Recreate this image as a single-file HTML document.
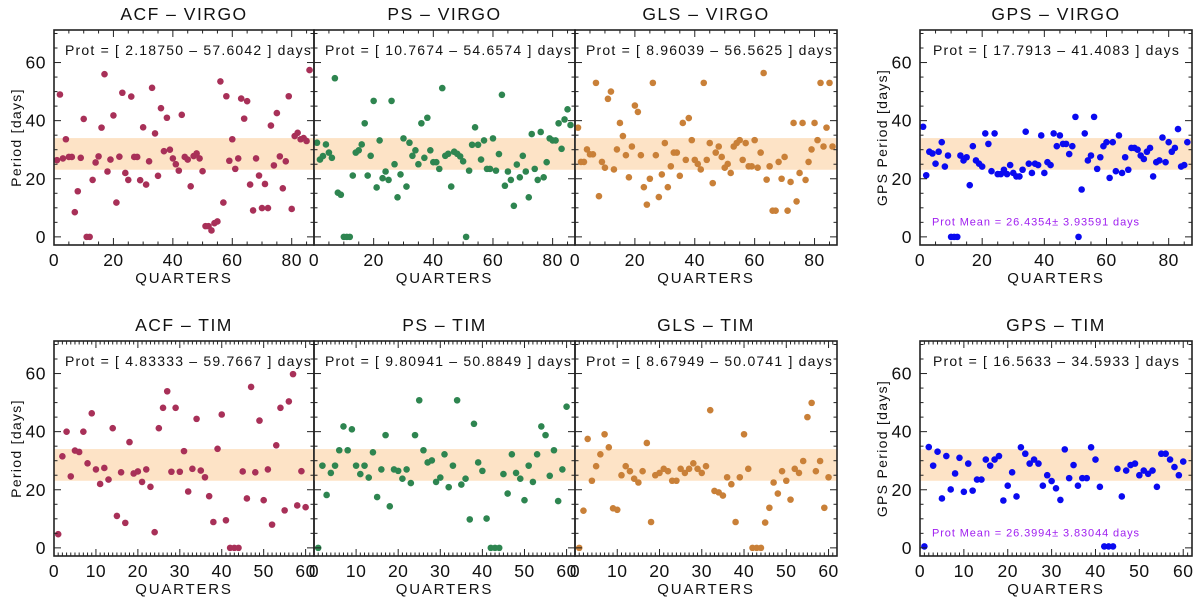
<!DOCTYPE html>
<html><head><meta charset="utf-8"><style>
html,body{margin:0;padding:0;background:#fff;}
svg{display:block;font-family:"Liberation Sans",sans-serif;}
</style></head><body>
<svg id="fig" width="1200" height="602" viewBox="0 0 1200 602" xmlns="http://www.w3.org/2000/svg"></svg>
<script>
// ---- data: period (days) per quarter, quarters start at 1 ----
const acfVirgo = [26.4,49,27,33.6,27.5,27.5,8.5,15.7,27.2,40.6,0,0,19.6,25.6,27.7,37.6,56,22.5,26.6,41.8,11.8,27.6,49.6,22,19.6,48.3,27.5,27.5,19.5,37.7,18,26,51.3,35.6,21,44.3,29.5,41,30,27,25,22.8,42,27.5,26.6,17.4,27.8,28.7,27,22.6,3.7,3.7,2.2,4.7,5.3,53.5,11.8,48.4,26.2,33.6,23.4,27,47.6,40.7,46.7,18,9.1,27,21.1,9.9,18.2,9.9,38.3,24.6,42.6,27.7,16.7,26,48.4,9.6,34.7,35.8,33.6,34,33,57.4];
const psVirgo = [32.4,26.6,27.8,31.8,29,27.2,54.6,15.2,14.5,0,0,0,21.1,29,29.8,31.8,39.1,21.1,27.9,46.8,17,33.2,20.2,22.5,19.6,46.8,25,13.6,21.5,33.9,17.3,32.4,27.9,29.8,25,39.1,27.2,41,29.8,25.7,25.7,23.4,51.2,27.9,28.6,17.3,29.3,28.6,27.7,26,0,22.8,31.7,37.7,31.7,26.6,33.2,23.4,23.4,33.9,22.8,28.5,48.9,17.6,22.5,19.6,10.7,24.9,20.5,27.9,22.5,13.6,35.4,23.4,19.6,36.1,20.5,25.7,33.9,33.2,33.2,39.1,30.3,40.4,43.9,38.5];
const glsVirgo = [37.6,25.8,25.8,30.1,28.4,28.4,53,14,25.8,23.8,47.5,50,23.2,30.1,39.2,34.7,28.1,20.5,31.1,45.2,43,28.1,17.1,11.1,20,53,28.1,13.7,21.5,32.3,17.1,24.3,29,29,21,39.2,26.5,40.9,33.3,26.5,25.1,23.2,53,26.5,32.3,18.5,29,31.1,27.5,23.8,25.1,22,31.1,32.3,33.3,26.5,32.3,24.3,24.3,33.3,23.8,29,56.4,19.7,24.3,9,9,25.8,20,27.5,9,18.9,39.2,12.2,22,39.2,19.6,25.8,30.1,39.2,33.3,53,31.1,37.6,53,31.1];
const gpsVirgo = [37.9,21.2,29.3,28.7,25.2,29.3,32.6,24.2,28.0,0,0,0,28.0,26.3,27.4,17.8,31.2,26.3,25.2,24.2,35.6,32.0,22.6,35.6,21.6,21.6,23.1,21.6,24.7,22.0,20.8,20.8,23.1,36.2,25.2,22.0,25.2,24.7,34.9,22.0,25.7,24.7,35.6,31.2,34.9,32.0,32.0,28.5,31.2,41.3,0,16.3,35.6,26.3,28.0,41.3,23.4,27.4,31.2,32.6,20.3,32.6,22.6,34.9,22.0,27.4,23.1,30.6,30.6,30.0,28.0,26.8,29.3,30.6,20.8,25.7,26.3,34.2,25.7,32.6,29.3,30.6,37.1,24.2,24.7,32.6];
const acfTim = [4.7,31.5,40,24.6,33.5,33,40,29.1,46.3,27,22,27.5,23.5,41.2,11,26,8.6,36.4,25.6,26.3,22.7,27,21,5.4,41.2,48.2,53.9,26.2,48.2,26.2,33.3,19.4,27.2,44.4,26.6,24.3,17.8,8.9,34.1,45.9,9.5,0,0,0,26.3,17,55.4,26,43.8,16.4,27,8,35.3,48.2,12.9,50.4,59.8,14.6,26.4,14];
const psTim = [0,28.3,18.2,25.8,28.3,33.6,41.8,33.6,40.8,28.3,25.4,28.3,24.2,32.9,17.5,27,38.8,14.3,27,26.5,23.8,27,22.3,38.8,50.8,33.6,29.4,30.1,22.7,24.2,32.2,20.9,28.3,50.8,21.8,23.8,9.8,42.7,29.4,26.5,10.1,0,0,0,25.4,18.7,32.2,25.8,23.8,16.4,28.3,22.7,32.2,41.8,38.8,24.8,33.6,16.1,27,48.6];
const glsTim = [0,12.8,37.5,23.1,28.1,32.2,39.1,34.6,13.6,13.1,25,28.1,26.4,23.8,22.5,26.4,36.1,8.9,25,25.8,27.2,26.4,23.1,23.1,27.2,25.8,27.2,29.1,27.2,25.8,28.1,47.4,19.6,19.1,18,24.3,21.9,8.9,24.3,39.1,27.2,0,0,0,8.7,13.8,22.5,18.7,26.4,23.1,16.6,27.2,25.8,29.9,45,49.9,26.4,29.9,13.8,24.3];
const gpsTim = [0.5,34.7,28.3,33.1,17,31.6,20.1,25.6,31,19.3,29,19.7,23.5,23.5,30.4,28.3,30.4,31.6,16.3,21.4,26,17.7,34.6,32.4,29,30.4,29,21.4,25,23,20.5,16.5,33.9,24,28.5,21.4,24,24,34.6,30.4,21,0.5,0.5,0.5,27.2,17.7,26.6,28.5,29,25,26.6,25.5,26.6,21,32.4,32.4,30.4,27.8,25,29.7];
const bandRange = [23.1, 34];
const yTicks = [0,20,40,60];
const topXTicks = [0,20,40,60,80];
const botXTicks = [0,10,20,30,40,50,60];

const NS="http://www.w3.org/2000/svg";
const svg=document.getElementById('fig');
function mk(tag,attrs,parent){const e=document.createElementNS(NS,tag);for(const k in attrs)e.setAttribute(k,attrs[k]);(parent||svg).appendChild(e);return e;}

const rows=[{top:30,bottom:245,xmax:87.5,ticks:topXTicks,minor:5,tag:'VIRGO'},{top:341,bottom:556,xmax:62,ticks:botXTicks,minor:1,tag:'TIM'}];
const cols=[{l:54,r:314,m:'ACF',c:'#a83058',ylab:'Period [days]',yl:true},{l:314,r:575,m:'PS',c:'#2e8550',yl:false},{l:575,r:837,m:'GLS',c:'#c98038',yl:false},{l:920,r:1192,m:'GPS',c:'#0a0af0',ylab:'GPS Period [days]',yl:true}];
const datasets=[[acfVirgo,psVirgo,glsVirgo,gpsVirgo],[acfTim,psTim,glsTim,gpsTim]];
const prots=[['2.18750 – 57.6042','10.7674 – 54.6574','8.96039 – 56.5625','17.7913 – 41.4083'],['4.83333 – 59.7667','9.80941 – 50.8849','8.67949 – 50.0741','16.5633 – 34.5933']];
const means=['Prot Mean = 26.4354± 3.93591 days','Prot Mean = 26.3994± 3.83044 days'];
const YMIN=-2.8, YMAX=71.2;

rows.forEach((row,ri)=>{
  cols.forEach((col,ci)=>{
    const g=mk('g',{});
    
    
    const xs=q=>col.l+(q/row.xmax)*(col.r-col.l);
    const ys=v=>row.bottom-(v-YMIN)/(YMAX-YMIN)*(row.bottom-row.top);
    const band=mk('rect',{x:col.l,y:ys(bandRange[1]),width:col.r-col.l,height:ys(bandRange[0])-ys(bandRange[1]),fill:'#fde3c6'},g);
    
    
    const vals=datasets[ri][ci];
    vals.forEach((v,i)=>{
      const p=mk('circle',{cx:xs(i+1),cy:ys(v),r:3.3,fill:col.c},g);
      
      
    });
    const tk=mk('g',{stroke:'#222','stroke-width':1},g);
    for(let q=0;q<=row.xmax;q+=row.minor){
      const major=row.ticks.includes(q);const L=major?7:3.5;
      mk('line',{x1:xs(q),x2:xs(q),y1:row.bottom,y2:row.bottom-L},tk);
      mk('line',{x1:xs(q),x2:xs(q),y1:row.top,y2:row.top+L},tk);
    }
    for(let v=0;v<=70;v+=5){
      const major=yTicks.includes(v);const L=major?7:3.5;
      mk('line',{x1:col.l,x2:col.l+L,y1:ys(v),y2:ys(v)},tk);
      mk('line',{x1:col.r,x2:col.r-L,y1:ys(v),y2:ys(v)},tk);
    }
    const fr=mk('rect',{x:col.l,y:row.top,width:col.r-col.l,height:row.bottom-row.top,fill:'none',stroke:'#222','stroke-width':1.6},g);
    
    
    row.ticks.forEach(t=>{
      const tx=mk('text',{x:xs(t),y:row.bottom+21,'font-size':17.5,'text-anchor':'middle',fill:'#111','letter-spacing':0.5},g);
      tx.textContent=t;
      
      
    });
    if(col.yl){
      yTicks.forEach(t=>{
        const ty=mk('text',{x:col.l-8,y:ys(t)+6,'font-size':17.5,'text-anchor':'end',fill:'#111','letter-spacing':0.5},g);
        ty.textContent=t;
        
        
      });
      const cy=(row.top+row.bottom)/2;const cx=col.l-33;
      const yt=mk('text',{x:cx,y:cy,'font-size':14,'text-anchor':'middle',fill:'#111','letter-spacing':1.3,transform:`rotate(-90 ${cx} ${cy})`},g);
      yt.textContent=col.ylab;
      
      
    }
    const xt=mk('text',{x:(col.l+col.r)/2,y:row.bottom+38,'font-size':15,'text-anchor':'middle',fill:'#111','letter-spacing':1.8},g);
    xt.textContent='QUARTERS';
    
    
    const tt=mk('text',{x:(col.l+col.r)/2,y:row.top-10,'font-size':17.5,'text-anchor':'middle',fill:'#111','letter-spacing':1.5},g);
    tt.textContent=col.m+' – '+row.tag;
    
    
    const pt=mk('text',{x:col.l+(ci==3?13:11),y:row.top+25,'font-size':14,fill:'#111','letter-spacing':1.2},g);
    pt.textContent='Prot = [ '+prots[ri][ci]+' ] days';
    
    
    if(ci==3){
      const mt=mk('text',{x:col.l+12,y:ys(5)+3,'font-size':11,fill:'#a020f0','letter-spacing':0.9},g);
      mt.textContent=means[ri];
      
      
    }
  });
});
</script>
</body></html>
